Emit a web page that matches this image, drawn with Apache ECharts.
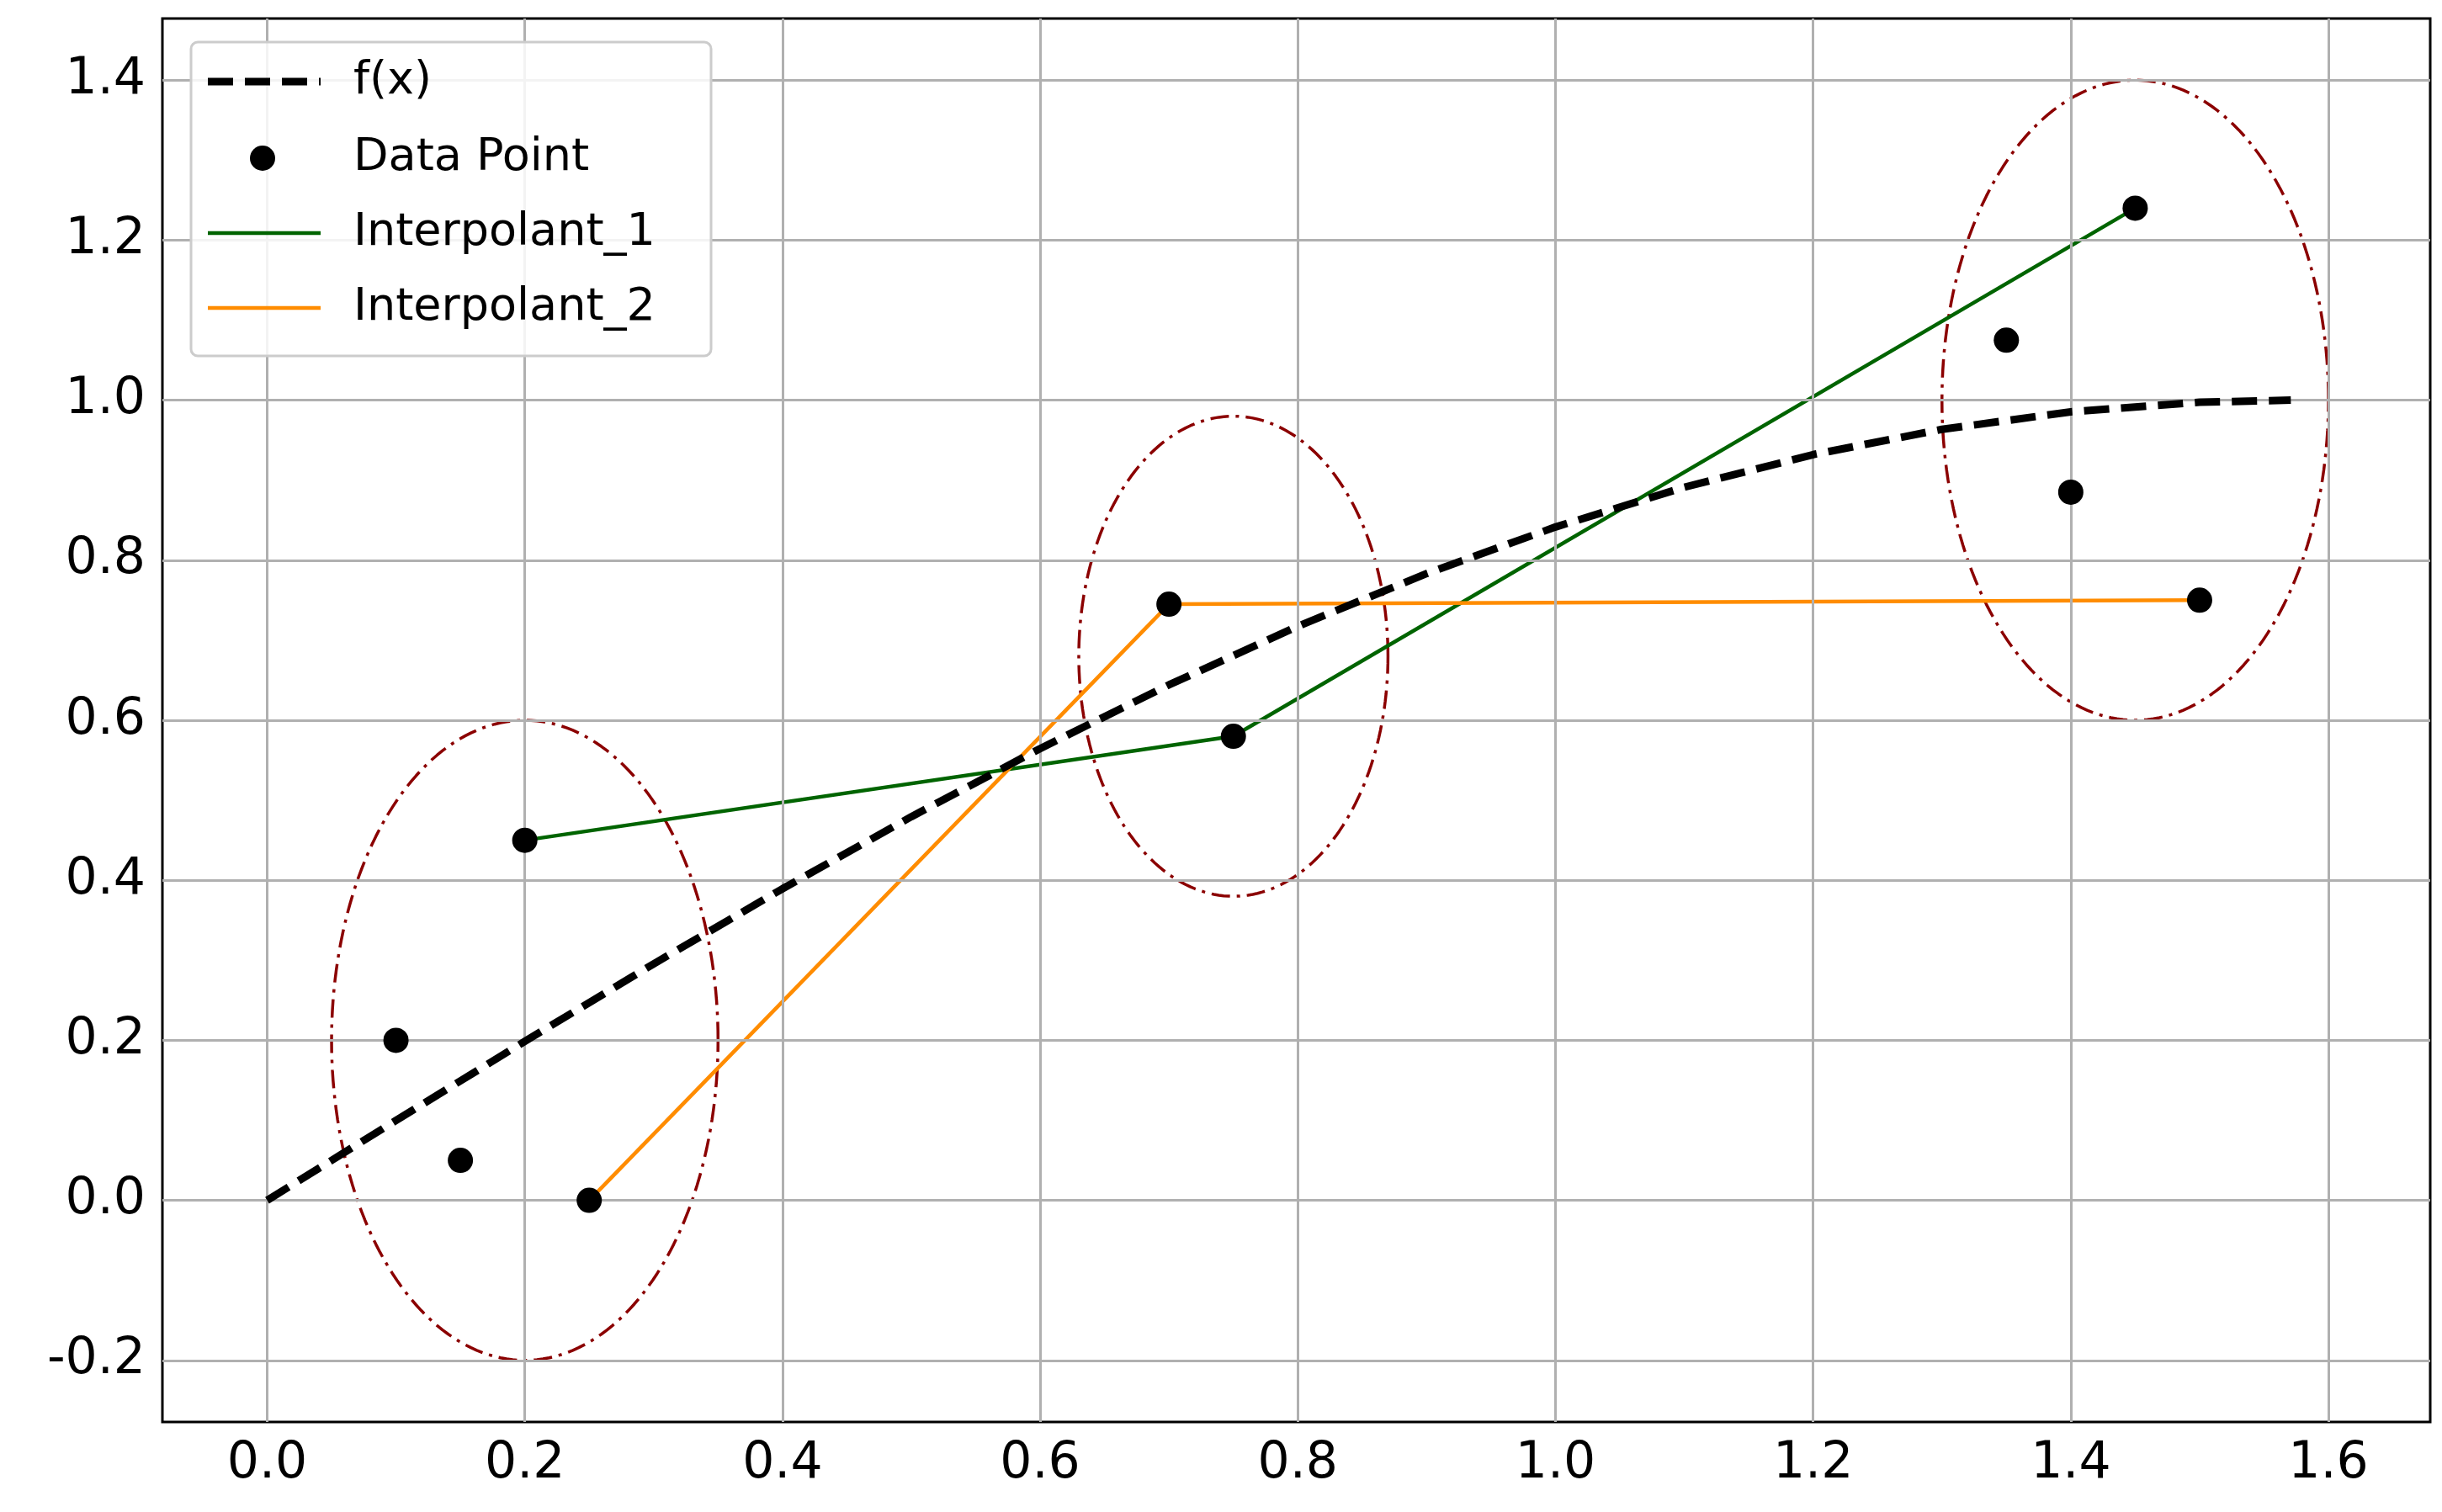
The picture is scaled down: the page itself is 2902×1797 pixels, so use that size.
<!DOCTYPE html>
<html>
<head>
<meta charset="utf-8">
<script src="https://cdn.jsdelivr.net/npm/echarts@6/dist/echarts.min.js"></script>
<style>html,body{margin:0;padding:0;background:#fff}#chart{width:2902px;height:1797px}</style>
</head>
<body>
<div id="chart"></div>
<script>
// f(x) curve
var fx = [0, 0.1, 0.2, 0.3, 0.4, 0.5, 0.6, 0.7, 0.8, 0.9, 1.0, 1.1, 1.2, 1.3, 1.4, 1.5, 1.5708];
var fy = [0, 0.0998, 0.1987, 0.2955, 0.3894, 0.4794, 0.5646, 0.6442, 0.7174, 0.7833, 0.8415, 0.8912, 0.932, 0.9636, 0.9854, 0.9975, 1.0];
// data points
var ptX = [0.1, 0.15, 0.2, 0.25, 0.7, 0.75, 1.35, 1.4, 1.45, 1.5];
var ptY = [0.2, 0.05, 0.45, 0.0, 0.745, 0.58, 1.075, 0.885, 1.24, 0.75];
// interpolants
var int1X = [0.2, 0.75, 1.45];
var int1Y = [0.45, 0.58, 1.24];
var int2X = [0.25, 0.7, 1.5];
var int2Y = [0.0, 0.745, 0.75];
// ellipses: centre and semi-axes
var ellCx = [0.2, 0.75, 1.45];
var ellCy = [0.2, 0.68, 1.0];
var ellRx = [0.15, 0.12, 0.15];
var ellRy = [0.4, 0.3, 0.4];
// tick labels
var xTicks = [0, 0.2, 0.4, 0.6, 0.8, 1.0, 1.2, 1.4, 1.6];
var yTicks = [-0.2, 0, 0.2, 0.4, 0.6, 0.8, 1.0, 1.2, 1.4];
var legendNames = ['f(x)', 'Data Point', 'Interpolant_1', 'Interpolant_2'];

function zip(a, b) { return a.map(function (v, i) { return [v, b[i]]; }); }
function ellipse(i) {
    var pts = [];
    for (var k = 0; k <= 200; k++) {
        var t = k / 200 * 2 * Math.PI;
        pts.push([ellCx[i] + ellRx[i] * Math.cos(t), ellCy[i] + ellRy[i] * Math.sin(t)]);
    }
    return pts;
}

var chart = echarts.init(document.getElementById('chart'));
var font = 'DejaVu Sans';

var series = [
    {
        name: 'grid', type: 'line', data: [], silent: true,
        markLine: {
            symbol: 'none', silent: true, animation: false,
            label: { show: false },
            lineStyle: { color: '#b0b0b0', width: 3, type: 'solid' },
            data: xTicks.map(function (v) { return { xAxis: v }; })
                .concat(yTicks.map(function (v) { return { yAxis: v }; }))
        }
    },
    {
        name: 'f(x)', type: 'line', data: zip(fx, fy), showSymbol: false,
        lineStyle: { color: '#000', width: 9, type: [30, 14] }, z: 5
    },
    {
        name: 'Data Point', type: 'scatter', data: zip(ptX, ptY), symbolSize: 30,
        itemStyle: { color: '#000', opacity: 1 }, z: 6
    },
    {
        name: 'Interpolant_1', type: 'line', data: zip(int1X, int1Y), showSymbol: false,
        lineStyle: { color: '#006400', width: 4.5 }, z: 4
    },
    {
        name: 'Interpolant_2', type: 'line', data: zip(int2X, int2Y), showSymbol: false,
        lineStyle: { color: '#ff8c00', width: 4.5 }, z: 4
    }
];
for (var i = 0; i < ellCx.length; i++) {
    series.push({
        name: 'ell' + i, type: 'line', data: ellipse(i), showSymbol: false,
        lineStyle: { color: '#8b0000', width: 3.5, type: [22, 8, 4, 8] }, z: 3
    });
}

// legend drawn by hand
var rowY = [97, 188, 277, 366];
var legendGraphics = [
    { type: 'rect', shape: { x: 227, y: 50, width: 618, height: 373, r: 8 },
      style: { fill: 'rgba(255,255,255,0.85)', stroke: '#ccc', lineWidth: 3 }, z: 100 },
    { type: 'line', shape: { x1: 247, y1: rowY[0], x2: 381, y2: rowY[0] },
      style: { stroke: '#000', lineWidth: 9, lineDash: [30, 14] }, z: 101 },
    { type: 'circle', shape: { cx: 312, cy: rowY[1], r: 15 }, style: { fill: '#000' }, z: 101 },
    { type: 'line', shape: { x1: 247, y1: rowY[2], x2: 381, y2: rowY[2] },
      style: { stroke: '#006400', lineWidth: 4.5 }, z: 101 },
    { type: 'line', shape: { x1: 247, y1: rowY[3], x2: 381, y2: rowY[3] },
      style: { stroke: '#ff8c00', lineWidth: 4.5 }, z: 101 }
];
legendNames.forEach(function (n, k) {
    legendGraphics.push({ type: 'text', x: 420, y: rowY[k], z: 101,
        style: { text: n, font: '54px "DejaVu Sans"', fill: '#000', verticalAlign: 'middle' } });
});

chart.setOption({
    animation: false,
    grid: { left: 193, right: 14, top: 22, bottom: 107, show: true, borderColor: '#000', borderWidth: 3, backgroundColor: 'transparent' },
    xAxis: {
        type: 'value', min: -0.0813, max: 1.679,
        axisLine: { show: false }, splitLine: { show: false },
        axisTick: { show: true, customValues: xTicks, length: 12, lineStyle: { color: '#000', width: 3 } },
        axisLabel: { customValues: xTicks, fontSize: 60, fontFamily: font, color: '#000', margin: 20,
            formatter: function (v) { return v.toFixed(1); } }
    },
    yAxis: {
        type: 'value', min: -0.277, max: 1.477,
        axisLine: { show: false }, splitLine: { show: false },
        axisTick: { show: true, customValues: yTicks, length: 12, lineStyle: { color: '#000', width: 3 } },
        axisLabel: { customValues: yTicks, fontSize: 60, fontFamily: font, color: '#000', margin: 20,
            formatter: function (v) { return v.toFixed(1); } }
    },
    graphic: legendGraphics,
    series: series
});
</script>
</body>
</html>
